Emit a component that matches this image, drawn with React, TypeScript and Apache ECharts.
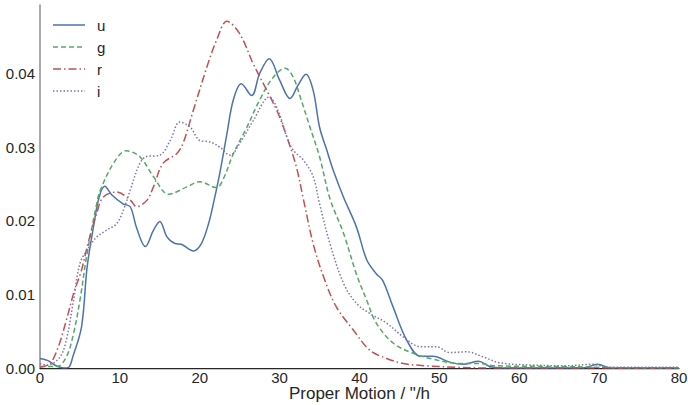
import React, { useEffect, useRef } from "react";
import * as echarts from "echarts";

const seriesNames = ["u", "g", "r", "i"];
const xTicks = [0, 10, 20, 30, 40, 50, 60, 70, 80];

const uX = [0, 1, 2, 3, 3.6, 4.1, 5.2, 5.9, 6.7, 7.4, 8.1, 9, 10.4, 11.3, 12.1, 13.2, 14.2, 15.0, 15.9, 16.9, 17.7, 19.2, 20.2, 21.1, 21.8, 22.5, 23.4, 24.2, 25.2, 26.5, 27.5, 28.7, 30.0, 31.3, 32.3, 33.3, 34.2, 35.0, 35.9, 36.7, 38.0, 39.6, 40.9, 42.1, 42.9, 44.2, 45.9, 47.6, 49.2, 51.3, 53, 54.9, 56.3, 58, 68, 69.8, 71.5, 80];
const uY = [0.0013, 0.001, 0.0003, 0.0, 0.0001, 0.0015, 0.0056, 0.0137, 0.0192, 0.0232, 0.0247, 0.0235, 0.0223, 0.0219, 0.019, 0.0165, 0.0187, 0.0199, 0.0178, 0.0169, 0.0168, 0.0159, 0.0169, 0.0196, 0.0228, 0.0264, 0.0318, 0.0364, 0.0386, 0.037, 0.04, 0.042, 0.0391, 0.0366, 0.0384, 0.0399, 0.0377, 0.0327, 0.0296, 0.0269, 0.0232, 0.0192, 0.0147, 0.0128, 0.0119, 0.0083, 0.0038, 0.0016, 0.0016, 0.0008, 0.0005, 0.0009, 0.0002, 0.0, 0.0, 0.0005, 0.0, 0.0];

const gX = [0, 2.1, 3.3, 4.2, 5.0, 5.9, 7.1, 7.5, 9.2, 10.8, 12.5, 14.2, 16.1, 18.4, 20.0, 22.1, 23.0, 24.2, 25.9, 27.5, 29.2, 30.7, 31.7, 32.7, 33.8, 35.0, 36.3, 38, 39.6, 40.9, 42.1, 44.2, 46.7, 49.2, 52.6, 55, 57, 65, 70, 75, 80];
const gY = [0.0002, 0.0002, 0.0015, 0.0047, 0.0092, 0.0156, 0.0223, 0.024, 0.0278, 0.0295, 0.0287, 0.026, 0.0236, 0.0246, 0.0253, 0.0245, 0.0258, 0.0291, 0.0327, 0.0364, 0.0395, 0.0407, 0.0395, 0.0364, 0.0327, 0.0287, 0.023, 0.0183, 0.0128, 0.0092, 0.0061, 0.0034, 0.002, 0.0012, 0.0006, 0.0006, 0.0003, 0.0002, 0.0001, 0.0, 0.0];

const rX = [0, 1.25, 2.3, 3.3, 4.2, 5.2, 6.0, 7.1, 7.9, 9.6, 11.3, 12.1, 13.4, 14.2, 15.4, 17.1, 17.9, 19.2, 20.9, 22.1, 23.4, 25.0, 26.7, 28.4, 29.8, 30.9, 32.1, 33.0, 34.2, 35.5, 37.1, 39.2, 41.3, 43.4, 45.5, 48.4, 52, 56, 80];
const rY = [0.0001, 0.0006, 0.0029, 0.0065, 0.0101, 0.0133, 0.0169, 0.021, 0.0232, 0.0239, 0.0228, 0.0219, 0.0228, 0.0246, 0.0278, 0.0291, 0.0305, 0.035, 0.0409, 0.0445, 0.0471, 0.0454, 0.0413, 0.0377, 0.0346, 0.0314, 0.0273, 0.0228, 0.0169, 0.0124, 0.0083, 0.0052, 0.0024, 0.0013, 0.0006, 0.0003, 0.0001, 0.0, 0.0];

const iX = [0, 1, 2.5, 3.3, 4.2, 5.0, 6.0, 7.1, 8.3, 9.6, 10.6, 11.3, 12.5, 13.3, 15.0, 16.3, 17.5, 18.8, 20.0, 21.3, 22.5, 23.8, 25.0, 26.7, 28.7, 29.8, 30.9, 31.7, 33.0, 34.2, 35.0, 36.3, 38.0, 39.6, 41.3, 43.4, 45.5, 47.6, 49.6, 51.3, 53.4, 55.5, 57.6, 61.7, 65.9, 69.2, 71, 80];
const iY = [0.0006, 0.0004, 0.0015, 0.0038, 0.0092, 0.0142, 0.0162, 0.0178, 0.0187, 0.0196, 0.0219, 0.0242, 0.0278, 0.0287, 0.0289, 0.0309, 0.0334, 0.0327, 0.0309, 0.0307, 0.03, 0.0289, 0.0305, 0.0336, 0.0368, 0.035, 0.0314, 0.0296, 0.0282, 0.026, 0.0223, 0.0169, 0.0115, 0.0088, 0.0074, 0.0061, 0.0042, 0.0029, 0.0029, 0.0021, 0.0022, 0.0015, 0.0007, 0.0004, 0.0003, 0.0005, 0.0001, 0.0001];

const colors = ["#4C72B0", "#55A868", "#C44E52", "#8172B2"];
const dashes: any[] = ["solid", [5, 3], [8, 3, 1.5, 3], [1.5, 2]];

function pairs(xs: number[], ys: number[]) {
  return xs.map((x, k) => [x, ys[k]]);
}

export default function App() {
  const ref = useRef<HTMLDivElement>(null);
  useEffect(() => {
    const chart = echarts.init(ref.current!, undefined, { renderer: "svg" });
    const all = [pairs(uX, uY), pairs(gX, gY), pairs(rX, rY), pairs(iX, iY)];
    const legendEls: any[] = [];
    seriesNames.forEach((name, k) => {
      const y = 25 + k * 22;
      legendEls.push({
        type: "line",
        shape: { x1: 53, y1: y, x2: 85, y2: y },
        style: { stroke: colors[k], lineWidth: 1.5, lineDash: dashes[k] === "solid" ? null : dashes[k] },
      });
      legendEls.push({
        type: "text",
        x: 97,
        y: y,
        style: {
          text: name,
          fill: "#262626",
          fontSize: 15,
          fontFamily: "Liberation Sans, Arial, sans-serif",
          verticalAlign: "middle",
          align: "left",
        },
      });
    });
    chart.setOption({
      animation: false,
      textStyle: { fontFamily: "Liberation Sans, Arial, sans-serif" },
      grid: { left: 40, right: 9, top: 5, bottom: 37, containLabel: false, outerBoundsMode: "none" },
      graphic: legendEls,
      xAxis: {
        type: "value",
        min: xTicks[0],
        max: xTicks[xTicks.length - 1],
        interval: 10,
        name: 'Proper Motion / "/h',
        nameLocation: "middle",
        nameGap: 17,
        nameMoveOverlap: false,
        nameTextStyle: { fontSize: 17, color: "#262626", verticalAlign: "top", lineHeight: 17 },
        axisLine: { show: true, onZero: false, lineStyle: { color: "#262626", width: 1.25 } },
        axisTick: { show: false },
        splitLine: { show: false },
        axisLabel: { fontSize: 15, color: "#262626", margin: 2, lineHeight: 14 },
      },
      yAxis: {
        type: "value",
        min: 0,
        max: 0.0493,
        interval: 0.01,
        axisLine: { show: true, lineStyle: { color: "#8c8c8c", width: 1.5 } },
        axisTick: { show: false },
        splitLine: { show: false },
        axisLabel: {
          fontSize: 15,
          color: "#262626",
          margin: 5,
          showMaxLabel: false,
          formatter: (v: number) => v.toFixed(2),
        },
      },
      series: seriesNames.map((name, k) => ({
        name,
        type: "line",
        data: all[k],
        smooth: 0.35,
        symbol: "none",
        lineStyle: { color: colors[k], width: 1.5, type: dashes[k] },
        itemStyle: { color: colors[k] },
      })),
    });
    return () => chart.dispose();
  }, []);
  return <div ref={ref} style={{ width: 688, height: 405, position: "absolute", left: 0, top: 0 }} />;
}
